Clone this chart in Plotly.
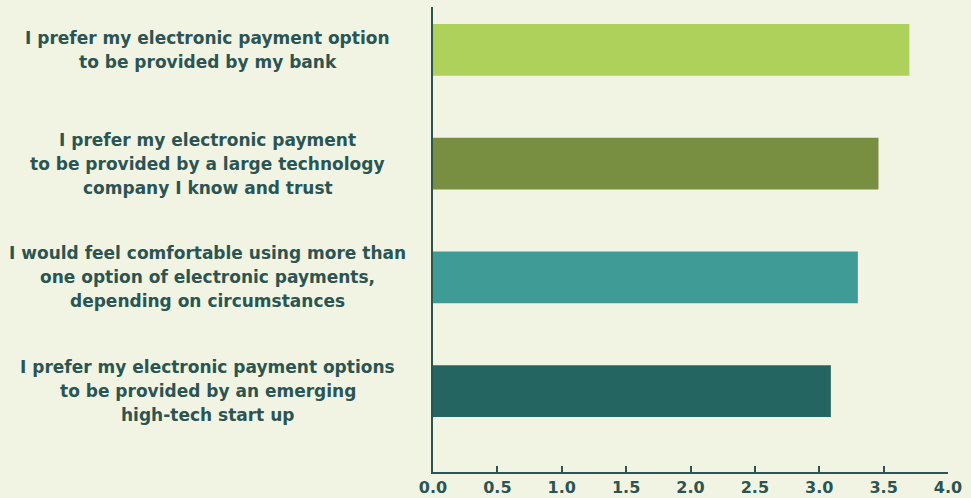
import plotly.graph_objects as go

# Survey statements (top to bottom), one list entry per printed line
statements = [
    ["I prefer my electronic payment option", "to be provided by my bank"],
    ["I prefer my electronic payment", "to be provided by a large technology",
     "company I know and trust"],
    ["I would feel comfortable using more than", "one option of electronic payments,",
     "depending on circumstances"],
    ["I prefer my electronic payment options", "to be provided by an emerging",
     "high-tech start up"],
]
scores = [3.70, 3.46, 3.30, 3.09]
bar_colors = ["#aed15b", "#788f42", "#3e9b96", "#246461"]
x_ticks = [0.0, 0.5, 1.0, 1.5, 2.0, 2.5, 3.0, 3.5, 4.0]

BG = "#f1f4e3"
INK = "#2b5452"
FONT = "DejaVu Sans"
LINE_STEP = 24  # px between label lines

# First statement drawn at the top of the axis
ys = [len(statements) - 1 - i for i in range(len(statements))]

fig = go.Figure(
    go.Bar(
        x=scores,
        y=ys,
        orientation="h",
        marker=dict(color=bar_colors, line=dict(width=0)),
        width=0.455,
        hoverinfo="x",
    )
)

# Category labels: centred lines to the left of the axis, one annotation per line
for lines, y in zip(statements, ys):
    n = len(lines)
    for k, line in enumerate(lines):
        fig.add_annotation(
            x=-0.4377,
            xref="paper",
            y=y,
            yref="y",
            yshift=((n - 1) / 2 - k) * LINE_STEP,
            text=line,
            showarrow=False,
            xanchor="center",
            yanchor="middle",
            font=dict(family=FONT, size=17, color=INK, weight=700),
        )

fig.update_layout(
    width=971,
    height=498,
    paper_bgcolor=BG,
    plot_bgcolor=BG,
    margin=dict(l=433, r=23, t=7, b=26, autoexpand=False),
    showlegend=False,
    bargap=0.5,
    xaxis=dict(
        range=[0, 4],
        tickvals=x_ticks,
        tickformat=".1f",
        ticks="inside",
        ticklen=6,
        tickwidth=1.5,
        tickcolor=INK,
        showline=True,
        linecolor=INK,
        linewidth=1.5,
        showgrid=False,
        zeroline=False,
        automargin=False,
        tickfont=dict(family=FONT, size=16, color=INK, weight=700),
    ),
    yaxis=dict(
        range=[-0.71, 3.377],
        showticklabels=False,
        ticks="",
        showline=True,
        linecolor=INK,
        linewidth=1.5,
        showgrid=False,
        zeroline=False,
        automargin=False,
    ),
)

fig.write_html("out.html")
